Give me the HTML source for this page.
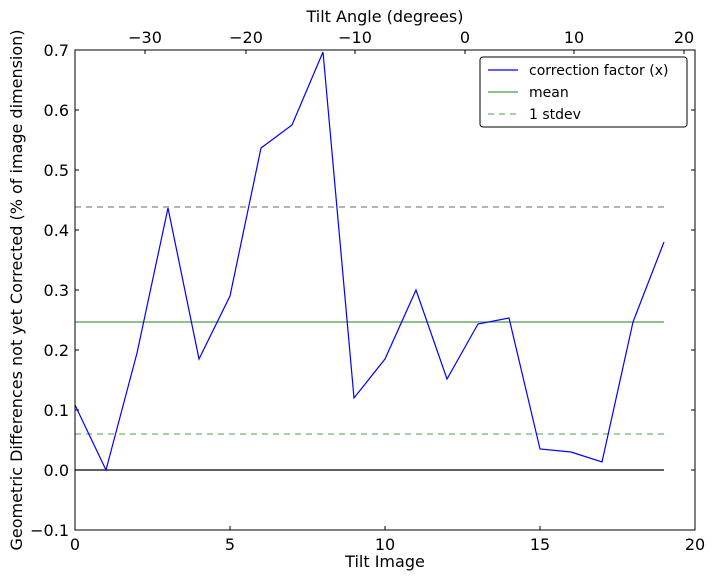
<!DOCTYPE html>
<html><head><meta charset="utf-8"><style>
body{margin:0;background:#fff;}
svg{display:block;font-family:"DejaVu Sans","Liberation Sans",sans-serif;}
</style></head><body>
<svg width="714" height="579" viewBox="0 0 714 579" xmlns="http://www.w3.org/2000/svg">
<rect width="714" height="579" fill="#fff"/>
<g stroke="#000" stroke-width="1">
<line x1="75" y1="530" x2="75" y2="526"/><line x1="230" y1="530" x2="230" y2="526"/><line x1="385" y1="530" x2="385" y2="526"/><line x1="540" y1="530" x2="540" y2="526"/><line x1="695" y1="530" x2="695" y2="526"/>
<line x1="145" y1="50" x2="145" y2="54"/><line x1="246" y1="50" x2="246" y2="54"/><line x1="355" y1="50" x2="355" y2="54"/><line x1="465" y1="50" x2="465" y2="54"/><line x1="574" y1="50" x2="574" y2="54"/><line x1="684" y1="50" x2="684" y2="54"/>
<line x1="75" y1="50" x2="79" y2="50"/><line x1="75" y1="110" x2="79" y2="110"/><line x1="75" y1="170" x2="79" y2="170"/><line x1="75" y1="230" x2="79" y2="230"/><line x1="75" y1="290" x2="79" y2="290"/><line x1="75" y1="350" x2="79" y2="350"/><line x1="75" y1="410" x2="79" y2="410"/><line x1="75" y1="470" x2="79" y2="470"/><line x1="75" y1="530" x2="79" y2="530"/>
<line x1="695" y1="50" x2="691" y2="50"/><line x1="695" y1="110" x2="691" y2="110"/><line x1="695" y1="170" x2="691" y2="170"/><line x1="695" y1="230" x2="691" y2="230"/><line x1="695" y1="290" x2="691" y2="290"/><line x1="695" y1="350" x2="691" y2="350"/><line x1="695" y1="410" x2="691" y2="410"/><line x1="695" y1="470" x2="691" y2="470"/><line x1="695" y1="530" x2="691" y2="530"/>
</g>
<line x1="75" y1="470" x2="664" y2="470" stroke="#000" stroke-width="1.2"/>
<line x1="75" y1="322" x2="664" y2="322" stroke="#4c9a4c" stroke-width="1.2"/>
<line x1="75" y1="207" x2="664" y2="207" stroke="#888" stroke-width="1.2" stroke-dasharray="6,5"/>
<line x1="75" y1="434" x2="664" y2="434" stroke="#6cb86c" stroke-width="1.2" stroke-dasharray="6,5"/>
<polyline fill="none" stroke="#0000ff" stroke-width="1.2" points="75,405 106,470 137,353 168,208 199,359 230,296 261,148 292,125 323,52 354,398 385,359 416,290 447,379 478,324 509,318 540,449 571,452 602,462 633,322 664,242"/>
<rect x="75" y="50" width="620" height="480" fill="none" stroke="#000" stroke-width="1"/>
<g font-size="16" fill="#000" text-anchor="middle">
<text x="75" y="550">0</text><text x="230" y="550">5</text><text x="385" y="550">10</text><text x="540" y="550">15</text><text x="695" y="550">20</text>
<text x="145" y="43">−30</text><text x="246" y="43">−20</text><text x="355" y="43">−10</text><text x="465" y="43">0</text><text x="574" y="43">10</text><text x="684" y="43">20</text>
<text x="385" y="567">Tilt Image</text>
<text x="385" y="22">Tilt Angle (degrees)</text>
</g>
<g font-size="16" fill="#000" text-anchor="end">
<text x="69" y="56">0.7</text><text x="69" y="116">0.6</text><text x="69" y="176">0.5</text><text x="69" y="236">0.4</text><text x="69" y="296">0.3</text><text x="69" y="356">0.2</text><text x="69" y="416">0.1</text><text x="69" y="476">0.0</text><text x="69" y="536">−0.1</text>
</g>
<text transform="translate(22,290) rotate(-90)" font-size="16" text-anchor="middle">Geometric Differences not yet Corrected (% of image dimension)</text>
<rect x="480" y="57" width="207" height="70" fill="#fff" stroke="#000" stroke-width="1" rx="3"/>
<line x1="488" y1="70" x2="518" y2="70" stroke="#0000ff" stroke-width="1.2"/>
<line x1="488" y1="92" x2="518" y2="92" stroke="#4c9a4c" stroke-width="1.2"/>
<line x1="488" y1="114" x2="518" y2="114" stroke="#6cb86c" stroke-width="1.2" stroke-dasharray="6,5"/>
<g font-size="14">
<text x="529" y="75">correction factor (x)</text>
<text x="529" y="97">mean</text>
<text x="529" y="119">1 stdev</text>
</g>
</svg>
</body></html>
